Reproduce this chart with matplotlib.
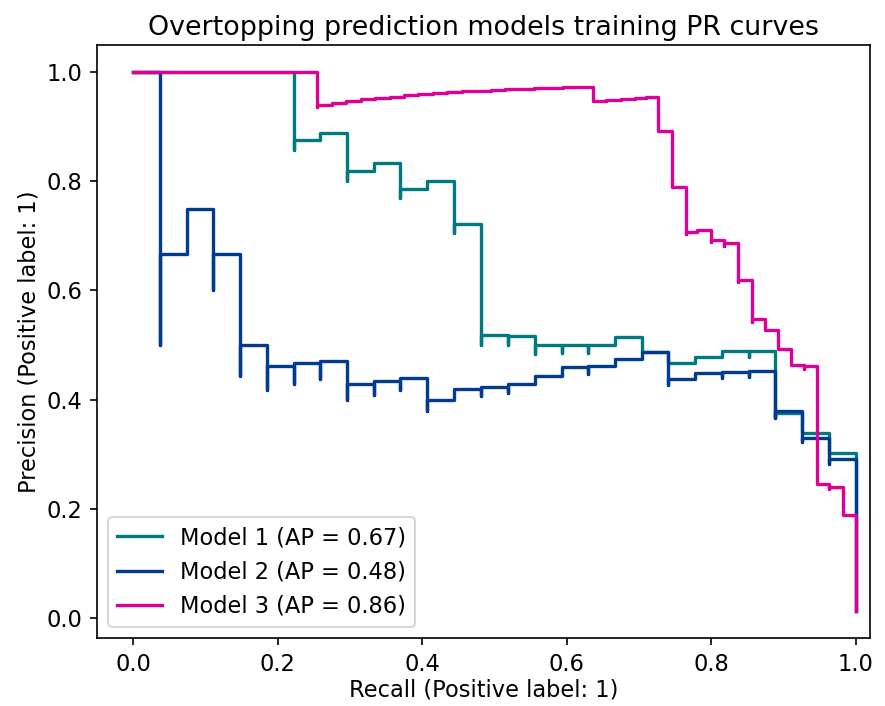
import matplotlib
matplotlib.use("Agg")
import matplotlib.pyplot as plt

# (recall, precision) points, ordered by increasing recall
recall_1 = [0.0, 0.222, 0.222, 0.259, 0.296, 0.296, 0.333, 0.370, 0.370, 0.407,
            0.444, 0.444, 0.481, 0.481, 0.519, 0.519, 0.556, 0.556, 0.593, 0.593,
            0.630, 0.630, 0.667, 0.704, 0.741, 0.778, 0.815, 0.852, 0.852, 0.889,
            0.889, 0.926, 0.963, 1.0, 1.0]
precision_1 = [1.0, 1.0, 0.857, 0.875, 0.889, 0.800, 0.818, 0.833, 0.769, 0.786,
               0.800, 0.706, 0.722, 0.500, 0.519, 0.500, 0.517, 0.484, 0.500, 0.485,
               0.500, 0.486, 0.500, 0.514, 0.488, 0.467, 0.478, 0.489, 0.479, 0.490,
               0.366, 0.376, 0.339, 0.302, 0.013]

recall_2 = [0.0, 0.037, 0.037, 0.074, 0.111, 0.111, 0.148, 0.148, 0.185, 0.185,
            0.222, 0.222, 0.259, 0.259, 0.296, 0.296, 0.333, 0.333, 0.370, 0.370,
            0.407, 0.407, 0.444, 0.481, 0.481, 0.519, 0.519, 0.556, 0.593, 0.630,
            0.630, 0.667, 0.704, 0.741, 0.741, 0.778, 0.815, 0.815, 0.852, 0.852,
            0.889, 0.889, 0.926, 0.926, 0.963, 0.963, 1.0, 1.0]
precision_2 = [1.0, 1.0, 0.500, 0.667, 0.750, 0.600, 0.667, 0.444, 0.500, 0.417,
               0.462, 0.429, 0.467, 0.438, 0.471, 0.400, 0.429, 0.409, 0.435, 0.417,
               0.440, 0.379, 0.400, 0.419, 0.406, 0.424, 0.412, 0.429, 0.444, 0.459,
               0.447, 0.462, 0.475, 0.488, 0.426, 0.438, 0.449, 0.440, 0.451, 0.442,
               0.453, 0.367, 0.380, 0.322, 0.330, 0.283, 0.292, 0.013]

recall_3 = [0.0, 0.255, 0.255, 0.275, 0.295, 0.315, 0.335, 0.355, 0.375, 0.395,
            0.415, 0.435, 0.455, 0.475, 0.495, 0.515, 0.535, 0.555, 0.575, 0.595,
            0.615, 0.637, 0.655, 0.675, 0.695, 0.710, 0.727, 0.746, 0.765, 0.765,
            0.781, 0.800, 0.800, 0.818, 0.818, 0.837, 0.837, 0.856, 0.856, 0.874,
            0.892, 0.910, 0.928, 0.928, 0.946, 0.963, 0.963, 0.982, 1.0, 1.0]
precision_3 = [1.0, 1.0, 0.935, 0.940, 0.944, 0.947, 0.950, 0.953, 0.955, 0.958,
               0.960, 0.961, 0.963, 0.965, 0.966, 0.967, 0.968, 0.969, 0.970, 0.971,
               0.972, 0.973, 0.947, 0.949, 0.951, 0.952, 0.954, 0.891, 0.790, 0.704,
               0.707, 0.711, 0.689, 0.693, 0.682, 0.687, 0.616, 0.620, 0.543, 0.547,
               0.528, 0.492, 0.464, 0.457, 0.462, 0.245, 0.236, 0.241, 0.189, 0.013]

labels = ["Model 1 (AP = 0.67)", "Model 2 (AP = 0.48)", "Model 3 (AP = 0.86)"]
colors = ["#007a7e", "#003b8e", "#dc0096"]

plt.rcParams["font.size"] = 10.8
plt.rcParams["axes.titlesize"] = 12.9

W, H, DPI = 885, 706, 150
fig = plt.figure(figsize=(W / DPI, H / DPI), dpi=DPI)
ax = fig.add_axes([97 / W, 1 - 638 / H, (870 - 97) / W, (638 - 45) / H])

for r, p, lab, col in zip([recall_1, recall_2, recall_3],
                          [precision_1, precision_2, precision_3], labels, colors):
    ax.plot(r, p, drawstyle="steps-pre", color=col, lw=1.6, label=lab)

ax.set_xlim(-0.05, 1.02)
ax.set_xlabel("Recall (Positive label: 1)", labelpad=1.5)
ax.set_ylabel("Precision (Positive label: 1)", labelpad=3)
ax.set_title("Overtopping prediction models training PR curves", pad=5)
ax.legend(loc="lower left")

fig.savefig("out.png", dpi=DPI)
